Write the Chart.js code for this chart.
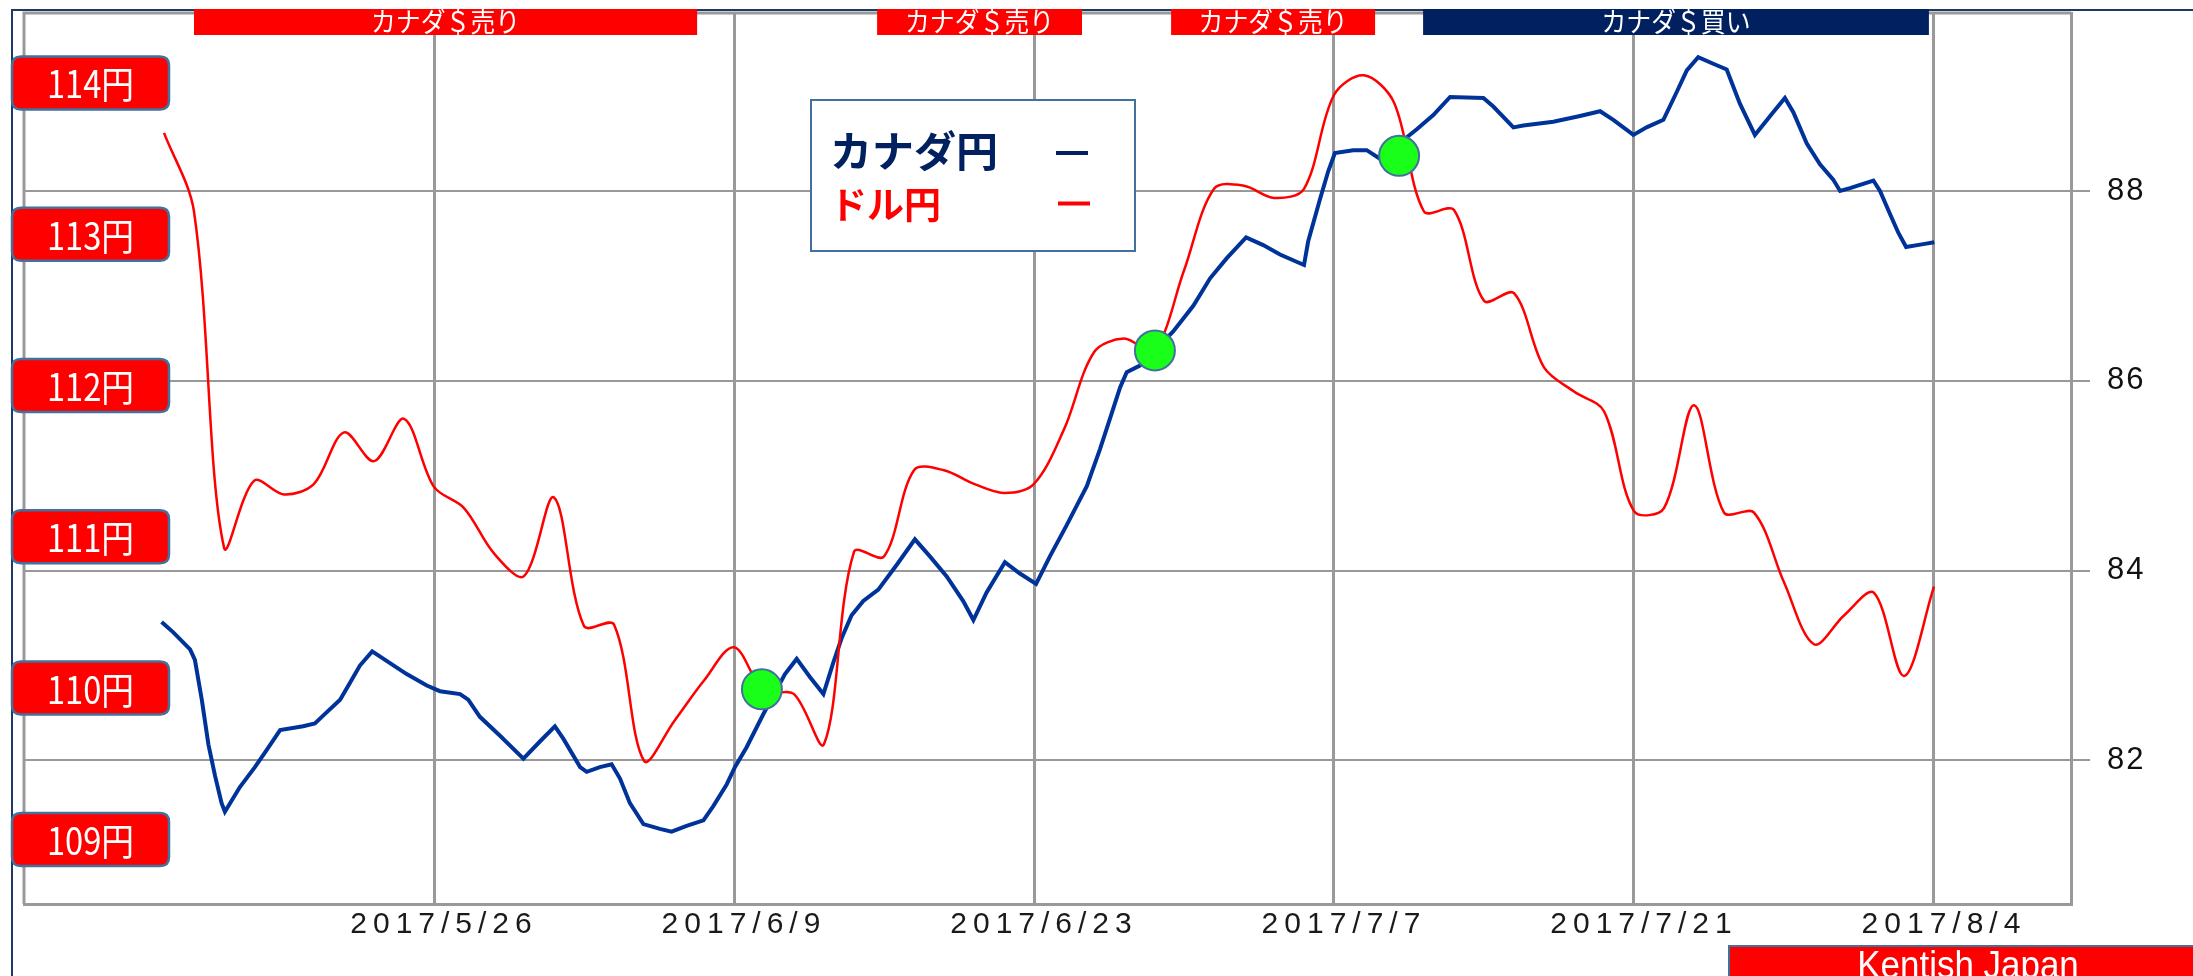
<!DOCTYPE html>
<html><head><meta charset="utf-8">
<script src="https://cdn.jsdelivr.net/npm/chart.js@4.4.1/dist/chart.umd.min.js"></script>
<style>html,body{margin:0;padding:0;background:#fff;overflow:hidden}canvas{display:block}</style>
</head><body>
<canvas id="c" width="2193" height="976"></canvas>
<script>
// x unit: business-day index, 0 = 2017/5/15 ... 59 = 2017/8/4
const tickDays = [9, 19, 29, 39, 49, 59];
const tickLabels = ['2017/5/26', '2017/6/9', '2017/6/23', '2017/7/7', '2017/7/21', '2017/8/4'];
const cadTicks = [82, 84, 86, 88];

// CAD/JPY (intraday vertices)
const cadDays = [-0.08,0.31,0.87,1.03,1.26,1.48,1.70,1.92,2.03,2.53,3.03,3.42,3.87,4.64,5.03,5.26,5.87,6.2,6.53,6.94,7.42,8.09,8.76,9.2,9.87,10.14,10.53,11.2,11.98,12.53,13.03,13.31,13.87,14.09,14.53,14.92,15.2,15.53,15.98,16.53,16.92,17.42,17.98,18.31,18.76,19.03,19.42,19.98,20.7,21.09,21.53,21.98,22.31,22.59,22.92,23.31,23.81,24.42,25.03,25.53,26.09,26.64,26.98,27.42,28.03,28.53,29.07,29.53,30.09,30.76,31.2,31.53,31.87,32.09,32.53,33.64,34.31,34.87,35.42,36.07,36.64,37.2,38.0,38.14,38.53,38.81,39.03,39.64,40.09,40.53,41.76,42.31,42.87,43.98,44.31,44.98,45.31,46.31,47.2,47.87,48.31,48.98,49.42,49.98,50.42,50.76,51.14,51.64,52.09,52.53,53.03,53.64,54.03,54.31,54.76,55.2,55.64,55.87,56.2,56.98,57.2,57.53,57.81,58.07,58.64,59.01];
const cadValues = [83.46,83.35,83.17,83.06,82.64,82.17,81.84,81.55,81.46,81.72,81.93,82.11,82.32,82.36,82.39,82.46,82.64,82.82,83.0,83.15,83.05,82.91,82.79,82.73,82.70,82.64,82.46,82.26,82.02,82.20,82.36,82.23,81.93,81.88,81.93,81.96,81.81,81.55,81.33,81.28,81.25,81.31,81.37,81.52,81.75,81.93,82.14,82.49,82.91,83.07,82.88,82.70,83.03,83.29,83.53,83.68,83.80,84.06,84.33,84.15,83.94,83.68,83.48,83.77,84.09,83.97,83.86,84.15,84.48,84.89,85.28,85.60,85.93,86.09,86.16,86.52,86.79,87.08,87.29,87.51,87.43,87.33,87.22,87.47,87.91,88.21,88.40,88.43,88.43,88.34,88.65,88.80,88.99,88.98,88.89,88.67,88.69,88.73,88.79,88.84,88.75,88.59,88.67,88.75,89.04,89.27,89.41,89.34,89.28,88.92,88.59,88.83,88.98,88.83,88.50,88.28,88.12,88.00,88.03,88.11,88.0,87.76,87.56,87.41,87.44,87.46];

// USD/JPY daily (index 0..59)
const jpyValues = [113.67,113.15,110.93,111.37,111.28,111.35,111.69,111.50,111.78,111.33,111.19,110.89,110.74,111.26,110.41,110.42,109.52,109.78,110.05,110.27,109.98,109.96,109.63,110.90,110.87,111.44,111.44,111.35,111.29,111.35,111.71,112.22,112.31,112.23,112.76,113.30,113.32,113.24,113.30,113.92,114.05,113.87,113.15,113.16,112.56,112.61,112.12,111.96,111.83,111.17,111.19,111.87,111.16,111.16,110.70,110.29,110.48,110.63,110.08,110.67];

// crossing signals (on CAD/JPY axis)
const signalDays = [19.93, 33.03, 41.17];
const signalValues = [82.75, 86.32, 88.37];

// position banners
const bannerStart = [1.0, 23.77, 33.57, 41.97];
const bannerEnd = [17.77, 30.6, 40.37, 58.83];
const bannerText = ['カナダ＄売り', 'カナダ＄売り', 'カナダ＄売り', 'カナダ＄買い'];
const bannerKind = ['sell', 'sell', 'sell', 'buy'];

// yen level labels (USD/JPY axis)
const yenLevels = [114, 113, 112, 111, 110, 109];
const yenLabels = ['114円', '113円', '112円', '111円', '110円', '109円'];

const seriesNames = ['カナダ円', 'ドル円'];
const credit = 'Kentish Japan';

const NAVY = '#002060', RED = '#FF0000', BLUE = '#003399', GRID = '#999999', EDGE = '#41719C';

function roundRect(ctx, x, y, w, h, r) {
  ctx.beginPath();
  ctx.moveTo(x + r, y);
  ctx.lineTo(x + w - r, y); ctx.quadraticCurveTo(x + w, y, x + w, y + r);
  ctx.lineTo(x + w, y + h - r); ctx.quadraticCurveTo(x + w, y + h, x + w - r, y + h);
  ctx.lineTo(x + r, y + h); ctx.quadraticCurveTo(x, y + h, x, y + h - r);
  ctx.lineTo(x, y + r); ctx.quadraticCurveTo(x, y, x + r, y);
  ctx.closePath();
}
function narrowText(ctx, text, x, y, sx) {
  ctx.save(); ctx.translate(x, y); ctx.scale(sx, 1); ctx.fillText(text, 0, 0); ctx.restore();
}

const deco = {
  id: 'deco',
  beforeDraw(chart) {
    const ctx = chart.ctx;
    ctx.fillStyle = '#fff'; ctx.fillRect(0, 0, chart.width, chart.height);
    ctx.letterSpacing = '6px';
  },
  afterDatasetsDraw(chart) { chart.ctx.letterSpacing = '2px'; },
  afterDraw(chart) {
    const ctx = chart.ctx, a = chart.chartArea, xs = chart.scales.x, yj = chart.scales.yJPY;
    ctx.save();
    ctx.letterSpacing = '0px';
    // plot frame (top & left)
    ctx.strokeStyle = GRID; ctx.lineWidth = 3;
    ctx.beginPath(); ctx.moveTo(a.left, a.bottom); ctx.lineTo(a.left, a.top); ctx.lineTo(a.right, a.top); ctx.stroke();
    // outer frame
    ctx.strokeStyle = '#1F3864'; ctx.lineWidth = 2;
    ctx.beginPath(); ctx.moveTo(12, chart.height); ctx.lineTo(12, 10); ctx.lineTo(chart.width, 10); ctx.stroke();
    // banners
    ctx.textAlign = 'center'; ctx.textBaseline = 'middle';
    ctx.font = '27px "Noto Sans CJK JP"';
    for (let i = 0; i < bannerText.length; i++) {
      const x1 = xs.getPixelForValue(bannerStart[i]), x2 = xs.getPixelForValue(bannerEnd[i]);
      ctx.fillStyle = bannerKind[i] === 'buy' ? NAVY : RED;
      ctx.fillRect(x1, 9, x2 - x1, 26);
      ctx.fillStyle = '#fff';
      narrowText(ctx, bannerText[i], (x1 + x2) / 2, 22, 0.92);
    }
    // yen labels
    ctx.font = '38px "Noto Sans CJK JP"';
    for (let i = 0; i < yenLevels.length; i++) {
      const cy = yj.getPixelForValue(yenLevels[i]);
      roundRect(ctx, 12, cy - 26.5, 157, 53, 9);
      ctx.fillStyle = RED; ctx.fill();
      ctx.strokeStyle = EDGE; ctx.lineWidth = 2.5; ctx.stroke();
      ctx.fillStyle = '#fff';
      narrowText(ctx, yenLabels[i], 90.5, cy + 1, 0.86);
    }
    // legend
    ctx.fillStyle = '#fff'; ctx.fillRect(811, 100, 324, 151);
    ctx.strokeStyle = EDGE; ctx.lineWidth = 2; ctx.strokeRect(811, 100, 324, 151);
    ctx.textAlign = 'left';
    ctx.font = 'bold 42px "Noto Sans CJK JP"'; ctx.fillStyle = NAVY;
    ctx.fillText(seriesNames[0], 830, 151);
    ctx.font = 'bold 37px "Noto Sans CJK JP"'; ctx.fillStyle = RED;
    ctx.fillText(seriesNames[1], 830, 205);
    ctx.lineWidth = 4;
    ctx.strokeStyle = NAVY; ctx.beginPath(); ctx.moveTo(1056, 153); ctx.lineTo(1088, 153); ctx.stroke();
    ctx.strokeStyle = RED; ctx.beginPath(); ctx.moveTo(1058, 203.5); ctx.lineTo(1090, 203.5); ctx.stroke();
    // credit
    ctx.fillStyle = RED; ctx.fillRect(1729, 946, 500, 50);
    ctx.strokeStyle = EDGE; ctx.lineWidth = 2; ctx.strokeRect(1729, 946, 500, 50);
    ctx.fillStyle = '#fff'; ctx.textAlign = 'center'; ctx.textBaseline = 'alphabetic';
    ctx.font = '38px "Liberation Sans"';
    narrowText(ctx, credit, 1968, 978, 0.92);
    ctx.restore();
  }
};

new Chart(document.getElementById('c'), {
  type: 'line',
  data: {
    datasets: [
      {
        label: 'signal',
        data: signalDays.map((d, i) => ({ x: d, y: signalValues[i] })),
        yAxisID: 'yCAD', showLine: false, order: 0,
        pointRadius: 20, pointBackgroundColor: '#1AFF1A', pointBorderColor: EDGE, pointBorderWidth: 2
      },
      {
        label: seriesNames[1],
        data: jpyValues.map((v, i) => ({ x: i, y: v })),
        yAxisID: 'yJPY', order: 1,
        borderColor: RED, borderWidth: 2.5, pointRadius: 0, tension: 0.33, fill: false
      },
      {
        label: seriesNames[0],
        data: cadDays.map((d, i) => ({ x: d, y: cadValues[i] })),
        yAxisID: 'yCAD', order: 2,
        borderColor: BLUE, borderWidth: 4, pointRadius: 0, tension: 0, fill: false,
        borderJoinStyle: 'miter'
      }
    ]
  },
  options: {
    responsive: false, animation: false, devicePixelRatio: 1, events: [],
    layout: { autoPadding: false, padding: { left: 24, top: 13, right: 0, bottom: 0 } },
    plugins: { legend: { display: false }, tooltip: { enabled: false } },
    scales: {
      x: {
        type: 'linear', min: -4.6667, max: 63.5667,
        afterBuildTicks: s => { s.ticks = tickDays.map(v => ({ value: v })); },
        afterFit: s => { s.height = 72; s.paddingLeft = 0; s.paddingRight = 0; },
        grid: { color: GRID, lineWidth: 3, drawTicks: false },
        border: { color: GRID, width: 3 },
        ticks: {
          callback: v => tickLabels[tickDays.indexOf(v)],
          font: { family: 'Liberation Sans', size: 30 }, color: '#1a1a1a',
          padding: 3, labelOffset: 10, maxRotation: 0, autoSkip: false
        }
      },
      yCAD: {
        type: 'linear', position: 'right', min: 80.488, max: 89.875,
        afterBuildTicks: s => { s.ticks = cadTicks.map(v => ({ value: v })); },
        afterFit: s => { s.width = 122; s.paddingTop = 0; s.paddingBottom = 0; },
        grid: { color: GRID, lineWidth: 2, tickLength: 19, tickColor: GRID, tickWidth: 2 },
        border: { color: GRID, width: 3 },
        ticks: {
          callback: v => String(v), z: 1,
          font: { family: 'Liberation Sans', size: 31 }, color: '#111', padding: 17
        }
      },
      yJPY: {
        type: 'linear', position: 'left', display: false, min: 108.573, max: 114.462,
        afterFit: s => { s.paddingTop = 0; s.paddingBottom = 0; }
      }
    }
  },
  plugins: [deco]
});
</script>
</body></html>
